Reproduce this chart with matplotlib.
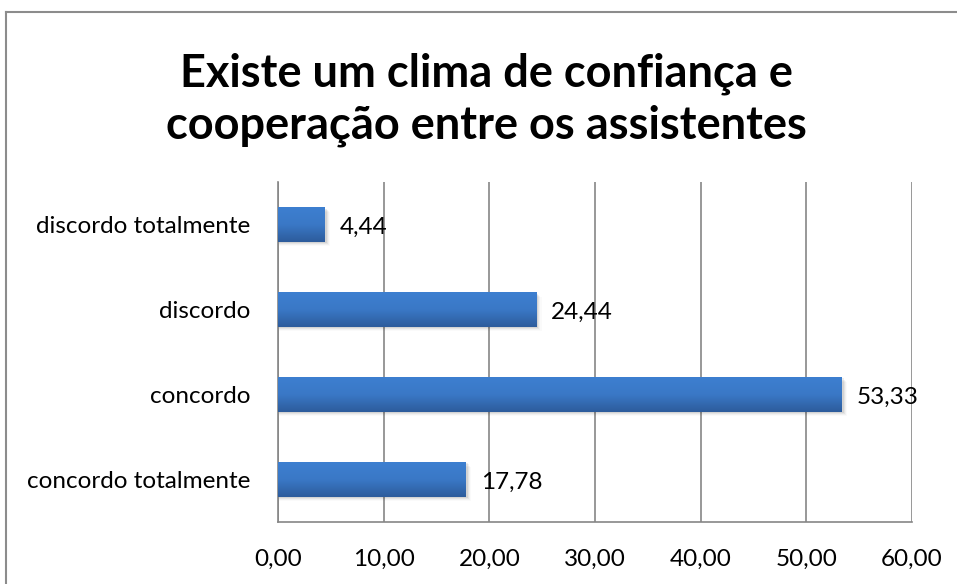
import numpy as np
import matplotlib.pyplot as plt
from matplotlib.colors import LinearSegmentedColormap
from matplotlib.lines import Line2D
from matplotlib.patches import Rectangle

categories = ["concordo totalmente", "concordo", "discordo", "discordo totalmente"]
values = [17.78, 53.33, 24.44, 4.44]
title = "Existe um clima de confiança e\ncooperação entre os assistentes"

plt.rcParams['font.family'] = ['Lato', 'DejaVu Sans']

fig = plt.figure(figsize=(9.57, 5.84), dpi=100)
ax = fig.add_axes([0.2905, 0.106, 0.6625, 0.582])

grad = LinearSegmentedColormap.from_list("bar", ["#2d5c9c", "#3a78c6", "#3d7fd0"])
bar_h = 0.41
ypos = np.arange(len(categories))

for y, v in zip(ypos, values):
    # soft drop shadow under each bar
    for k, a in enumerate([0.07, 0.05, 0.035, 0.02]):
        off = 0.015 + k * 0.012
        ax.add_patch(Rectangle((0.1, y - bar_h / 2 - off), v + 0.1 + k * 0.1, bar_h,
                               facecolor="#000000", alpha=a, edgecolor="none", zorder=2))
    g = np.linspace(0, 1, 64).reshape(-1, 1)
    ax.imshow(g, cmap=grad, aspect="auto", origin="lower",
              extent=(0, v, y - bar_h / 2, y + bar_h / 2), zorder=3)
    ax.text(v + 1.4, y - 0.03, f"{v:.2f}".replace(".", ","), va="center", ha="left",
            fontsize=17.5, color="black", zorder=4)

ax.set_xlim(0, 60)
ax.set_ylim(-0.5, 3.5)
ax.set_xticks(np.arange(0, 61, 10))
ax.set_xticklabels([f"{t:.2f}".replace(".", ",") for t in np.arange(0, 61, 10)], fontsize=17.5)
ax.set_yticks(ypos)
ax.set_yticklabels(categories, fontsize=17.5)
ax.tick_params(axis="both", length=0)
ax.tick_params(axis="y", pad=20)
ax.tick_params(axis="x", pad=19)

ax.grid(axis="x", color="#868686", linewidth=1.2, zorder=1)
ax.set_axisbelow(True)
for side in ["top", "right"]:
    ax.spines[side].set_visible(False)
for side in ["left", "bottom"]:
    ax.spines[side].set_color("#868686")
    ax.spines[side].set_linewidth(1.2)

fig.text(0.508, 0.829, title, ha="center", va="center", fontsize=32.5,
         fontweight="bold", linespacing=1.3)

# chart frame (left and top edges)
W, H = 957, 584
fig.add_artist(Line2D([6 / W, 6 / W], [0, 1 - 12 / H], color="#8c8c8c", linewidth=1.5))
fig.add_artist(Line2D([6 / W, 1], [1 - 12 / H, 1 - 12 / H], color="#8c8c8c", linewidth=1.5))

fig.savefig("out.png", dpi=100)
